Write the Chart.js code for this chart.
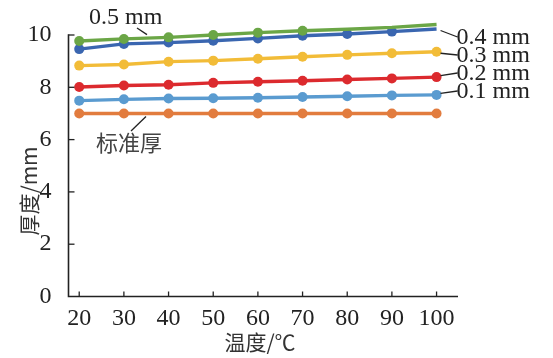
<!DOCTYPE html>
<html><head><meta charset="utf-8">
<script src="https://cdn.jsdelivr.net/npm/chart.js@4/dist/chart.umd.min.js"></script>
<style>html,body{margin:0;padding:0;background:#fff}#w{width:553px;height:358px}</style>
</head><body><div id="w"><canvas id="c" width="553" height="358"></canvas></div>
<script>
const temps = [20,30,40,50,60,70,80,90,100];
const xTicks = [20,30,40,50,60,70,80,90,100];
const yTicks = [0,2,4,6,8,10];
const s05 = [9.77,9.85,9.91,10.00,10.09,10.16,10.22,10.29,10.40];
const s04 = [9.46,9.66,9.71,9.78,9.87,9.97,10.04,10.13,10.23];
const s03 = [8.83,8.87,8.98,9.02,9.09,9.17,9.24,9.30,9.36];
const s02 = [8.01,8.07,8.10,8.17,8.21,8.25,8.30,8.34,8.39];
const s01 = [7.49,7.54,7.57,7.58,7.60,7.63,7.66,7.69,7.71];
const sStd = [7.00,7.00,7.00,7.00,7.00,7.00,7.00,7.00,7.00];
const seriesNames = ['0.5 mm','0.4 mm','0.3 mm','0.2 mm','0.1 mm','标准厚'];
const colors = ['#6BA646','#3A66B0','#F2BC38','#DC2A2E','#5A9BD0','#E27C3E'];
const allSeries = [s05,s04,s03,s02,s01,sStd];

const SERIF = "'Liberation Serif', 'Times New Roman', serif";
const CJK = '"Noto Sans CJK SC", sans-serif';
Chart.defaults.font.family = SERIF;
Chart.defaults.font.size = 24;
const datasets = allSeries.map((s,i)=>({
  label: seriesNames[i],
  data: temps.map((t,j)=>({x:t,y:s[j]})),
  borderColor: colors[i], backgroundColor: colors[i],
  borderWidth: 3.4, pointRadius: 5, pointHoverRadius: 5,
  pointBorderWidth: 0, clip: false, tension: 0
}));

const deco = {
  id:'deco',
  afterDraw(chart){
    const ctx = chart.ctx, xs = chart.scales.x, ys = chart.scales.y;
    const L = xs.left, R = xs.right, T = ys.getPixelForValue(10), B = ys.bottom;
    const px = (v)=>xs.getPixelForValue(v), py=(v)=>ys.getPixelForValue(v);
    ctx.save();
    ctx.strokeStyle = '#222'; ctx.lineWidth = 1.6;
    ctx.beginPath(); ctx.moveTo(L, T-0.8); ctx.lineTo(L, B); ctx.lineTo(R, B); ctx.stroke();
    ctx.lineWidth = 1.3;
    yTicks.forEach(v=>{ if(v===0) return; const y = py(v); ctx.beginPath(); ctx.moveTo(L,y); ctx.lineTo(L+6,y); ctx.stroke(); });
    xTicks.forEach(v=>{ const x = px(v); ctx.beginPath(); ctx.moveTo(x,B); ctx.lineTo(x,B-5); ctx.stroke(); });
    ctx.lineWidth = 1.3; ctx.strokeStyle = '#222';
    const x100 = px(100);
    const rightLbl = [[s04,'0.4 mm',37],[s03,'0.3 mm',55],[s02,'0.2 mm',73],[s01,'0.1 mm',91]];
    ctx.font = '24px ' + SERIF; ctx.fillStyle = '#222'; ctx.textBaseline = 'middle'; ctx.textAlign='left';
    rightLbl.forEach(([s,t,ly])=>{
      const y0 = py(s[8]);
      ctx.beginPath(); ctx.moveTo(x100+4, y0+(ly>y0?1.5:-1.5)); ctx.lineTo(x100+21, ly); ctx.stroke();
      ctx.fillText(t, x100+20, ly+1);
    });
    const xg = 147, yg = py(s05[1] + (s05[2]-s05[1])*((xs.getValueForPixel(xg)-30)/10));
    ctx.beginPath(); ctx.moveTo(137, 28); ctx.lineTo(xg, yg-3.5); ctx.stroke();
    ctx.fillText('0.5 mm', 89, 18);
    ctx.beginPath(); ctx.moveTo(131, 131); ctx.lineTo(146, py(7)+3); ctx.stroke();
    ctx.fillStyle = '#444';
    ctx.font = '22px '+CJK;
    ctx.fillText('标准厚', 96, 143);
    ctx.fillStyle = '#333';
    ctx.textAlign='center';
    ctx.font = '21px '+CJK;
    ctx.fillText('温度/℃', 260, 342);
    ctx.translate(29, 191); ctx.rotate(-Math.PI/2);
    ctx.fillText('厚度/mm', 0, 0);
    ctx.restore();
  }
};

new Chart(document.getElementById('c'), {
  type:'line',
  data:{datasets},
  options:{
    responsive:false, animation:false,
    layout:{padding:{left:0,right:95,top:35,bottom:0}},
    plugins:{legend:{display:false},tooltip:{enabled:false}},
    scales:{
      x:{type:'linear', min:17.6, max:104.8,
        afterBuildTicks(s){ s.ticks = xTicks.map(v=>({value:v})); },
        afterFit(s){ s.height = 61.5; },
        grid:{display:false}, border:{display:false},
        ticks:{font:{family:SERIF,size:24}, color:'#222', padding:0, maxRotation:0, autoSkip:false}},
      y:{type:'linear', min:0, max:10,
        afterBuildTicks(s){ s.ticks = yTicks.map(v=>({value:v})); },
        afterFit(s){ s.width = 68.5; },
        grid:{display:false}, border:{display:false},
        ticks:{font:{family:SERIF,size:24}, color:'#222', padding:9}}
    }
  },
  plugins:[deco]
});
</script></body></html>
